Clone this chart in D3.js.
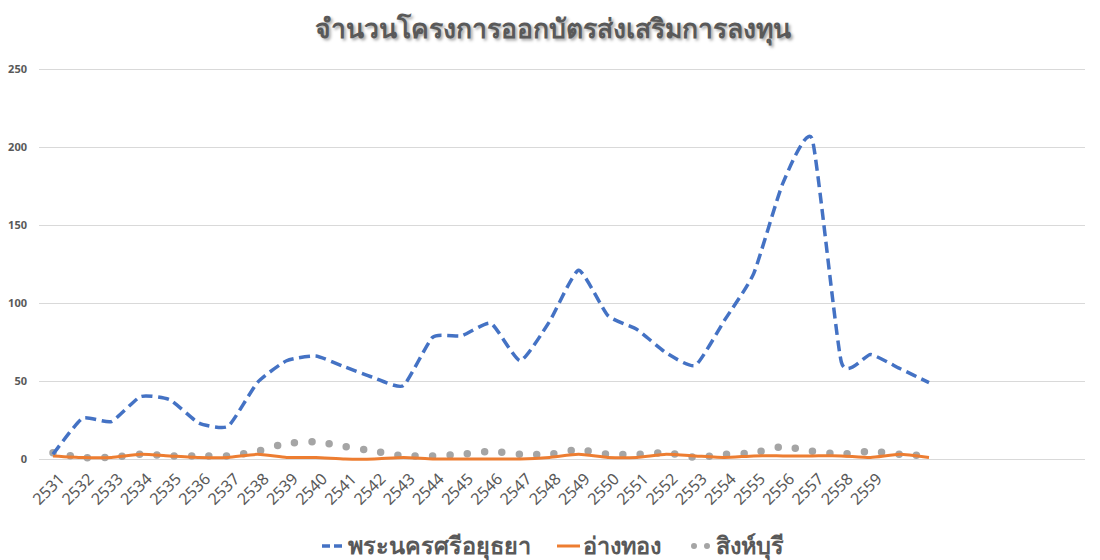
<!DOCTYPE html>
<html>
<head>
<meta charset="utf-8">
<script src="https://cdn.jsdelivr.net/npm/d3@7"></script>
<style>
  body { margin: 0; background: #fff; }
  text { font-family: "Noto Sans", "DejaVu Sans", sans-serif; }
</style>
</head>
<body>
<script>
const w = 1100;
const h = 560;

// ปีที่แสดงบนแกน (ข้อมูลมี 31 จุด แต่ป้ายมีถึง 2559)
const yearLabels = d3.range(2531, 2560).map(String);

const ayutthaya = [3, 26, 24, 40, 38, 23, 21, 49, 63, 66, 59, 52, 47, 78, 79, 87, 63, 88, 121, 92, 83, 68, 60, 89, 119, 177, 205, 62, 67, 58, 49];
const angthong  = [2, 1, 1, 3, 2, 1, 1, 3, 1, 1, 0, 0, 1, 0, 0, 0, 0, 1, 3, 1, 1, 3, 2, 1, 2, 2, 2, 2, 1, 3, 1];
const singburi  = [4, 1, 1, 3, 2, 2, 2, 5, 10, 11, 8, 5, 2, 2, 3, 5, 3, 3, 6, 3, 3, 4, 1, 3, 4, 8, 5, 3, 5, 3, 2];

const yTicks = [0, 50, 100, 150, 200, 250];

const seriesNames = ["พระนครศรีอยุธยา", "อ่างทอง", "สิงห์บุรี"];
const seriesColors = ["#4472C4", "#ED7D31", "#A5A5A5"];

const svg = d3.select("body").append("svg").attr("width", w).attr("height", h);

const xScale = d3.scaleLinear().domain([0, ayutthaya.length - 1]).range([53, 929]);
const yScale = d3.scaleLinear().domain([0, 250]).range([459, 69]);

// title
svg.append("text")
  .attr("x", 553)
  .attr("y", 38)
  .attr("text-anchor", "middle")
  .attr("font-size", 26.5)
  .attr("font-weight", "bold")
  .attr("fill", "#595959")
  .style("text-shadow", "2px 2px 3px rgba(0,0,0,0.35)")
  .text("จำนวนโครงการออกบัตรส่งเสริมการลงทุน");

// grid + y labels
const yAxis = d3.axisLeft(yScale).tickValues(yTicks).tickSize(-(1085 - 39)).tickPadding(12);
const yG = svg.append("g").attr("transform", "translate(39,0)").call(yAxis);
yG.select(".domain").remove();
yG.selectAll(".tick line").attr("stroke", "#d9d9d9").attr("stroke-width", 1);
yG.selectAll(".tick text")
  .attr("fill", "#595959")
  .attr("font-size", 11)
  .attr("font-weight", "bold");

// x labels
const xAxis = d3.axisBottom(xScale)
  .tickValues(d3.range(yearLabels.length))
  .tickFormat(i => yearLabels[i])
  .tickSize(0);
const xG = svg.append("g").attr("transform", "translate(0," + yScale(0) + ")").call(xAxis);
xG.select(".domain").remove();
xG.selectAll(".tick text")
  .attr("fill", "#595959")
  .style("font-size", "16px")
  .attr("y", 0)
  .attr("dy", "0.35em")
  .attr("transform", "translate(8,17)rotate(-45)")
  .style("text-anchor", "end");

const line = d3.line()
  .x((d, i) => xScale(i))
  .y(d => yScale(d))
  .curve(d3.curveCardinal.tension(0.5));

svg.append("path")
  .datum(singburi)
  .attr("d", line)
  .attr("fill", "none")
  .attr("stroke", seriesColors[2])
  .attr("stroke-width", 7.5)
  .attr("stroke-linecap", "round")
  .attr("stroke-dasharray", "0 17.4");

svg.append("path")
  .datum(angthong)
  .attr("d", line)
  .attr("fill", "none")
  .attr("stroke", seriesColors[1])
  .attr("stroke-width", 3);

svg.append("path")
  .datum(ayutthaya)
  .attr("d", line)
  .attr("fill", "none")
  .attr("stroke", seriesColors[0])
  .attr("stroke-width", 3.5)
  .attr("stroke-dasharray", "11 5.5");

// legend
const legendX = [322, 557, 690];
const legend = svg.append("g");
seriesNames.forEach(function (name, k) {
  const g = legend.append("g").attr("transform", "translate(" + legendX[k] + ",546)");
  const sample = g.append("line")
    .attr("x1", 0).attr("x2", 23).attr("y1", 0).attr("y2", 0)
    .attr("stroke", seriesColors[k]);
  if (k === 0) sample.attr("stroke-width", 3.5).attr("stroke-dasharray", "8 4");
  if (k === 1) sample.attr("stroke-width", 3);
  if (k === 2) sample.attr("x1", 4).attr("x2", 19).attr("stroke-width", 6)
    .attr("stroke-linecap", "round").attr("stroke-dasharray", "0 13");
  g.append("text")
    .attr("x", 26)
    .attr("y", 0)
    .attr("dy", "0.35em")
    .attr("font-size", 23.5)
    .attr("font-weight", "bold")
    .attr("fill", "#595959")
    .text(name);
});
</script>
</body>
</html>
